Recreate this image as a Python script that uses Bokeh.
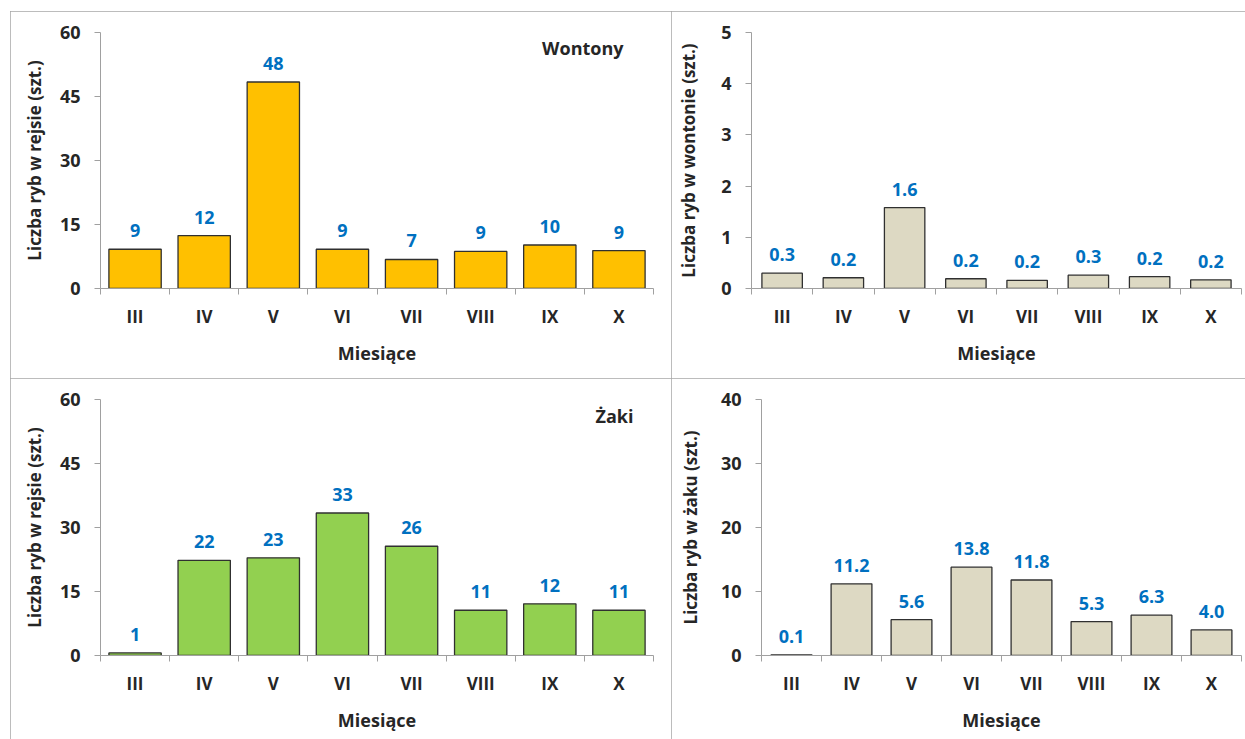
from bokeh.plotting import figure
from bokeh.models import (Range1d, FixedTicker, LinearAxis, ColumnDataSource,
                          LabelSet, Label, Spacer)
from bokeh.core.properties import value
from bokeh.layouts import row, column
from bokeh.embed import file_html
from bokeh.resources import INLINE

# --- data -------------------------------------------------------------
months = ["III", "IV", "V", "VI", "VII", "VIII", "IX", "X"]

wontony_per_trip = [9.2, 12.4, 48.4, 9.2, 6.8, 8.7, 10.2, 8.9]
zaki_per_trip = [0.6, 22.3, 22.9, 33.4, 25.6, 10.6, 12.1, 10.6]
fish_per_wonton = [0.30, 0.21, 1.58, 0.19, 0.16, 0.26, 0.23, 0.17]
fish_per_zak = [0.1, 11.2, 5.6, 13.8, 11.8, 5.3, 6.3, 4.0]

ticks_trip = [0, 15, 30, 45, 60]
ticks_wonton = [0, 1, 2, 3, 4, 5]
ticks_zak = [0, 10, 20, 30, 40]

FONT = "Open Sans"
TEXT = "#262626"
AXIS = "#a0a0a0"
BLUE = "#0070C0"
FRAME_CSS = {"outline": "1px solid #a6a6a6", "outline-offset": "-1px"}

n = len(months)
centres = [i + 0.5 for i in range(n)]
edges = list(range(n + 1))


def make_panel(values, ticks, fmt, color, bar_width, ylabel, w, h,
               b_left, b_right, b_top, b_bottom, label_standoff,
               title=None, title_off=0, title_dy=0):
    ymax = ticks[-1]
    p = figure(x_range=Range1d(0, n), y_range=Range1d(0, ymax), width=w,
               height=h, output_backend="svg", toolbar_location=None,
               x_axis_location=None, min_border_left=b_left,
               min_border_right=b_right, min_border_top=b_top,
               min_border_bottom=b_bottom, styles=FRAME_CSS)
    p.outline_line_color = None
    p.xgrid.visible = False
    p.ygrid.visible = False
    p.background_fill_color = "white"
    p.border_fill_color = "white"

    src = ColumnDataSource(dict(x=centres, v=values,
                                t=[fmt.format(v) for v in values]))
    p.vbar(x="x", top="v", width=bar_width, source=src, fill_color=color,
           line_color="#303030", line_width=1.3)

    p.add_layout(LabelSet(x="x", y="v", text="t", source=src, y_offset=12,
                          text_align="center", text_baseline="alphabetic",
                          text_font=value(FONT), text_font_style="bold",
                          text_font_size="18px", text_color=BLUE))

    # y axis
    ax = p.yaxis[0]
    ax.ticker = FixedTicker(ticks=ticks)
    ax.axis_line_color = AXIS
    ax.major_tick_line_color = AXIS
    ax.major_tick_out = 6
    ax.major_tick_in = 0
    ax.minor_tick_line_color = None
    ax.major_label_standoff = 14
    ax.major_label_text_font = FONT
    ax.major_label_text_font_style = "bold"
    ax.major_label_text_font_size = "18px"
    ax.major_label_text_color = TEXT
    ax.axis_label = ylabel
    ax.axis_label_standoff = label_standoff
    ax.axis_label_text_font = FONT
    ax.axis_label_text_font_style = "bold"
    ax.axis_label_text_font_size = "17px"
    ax.axis_label_text_color = TEXT

    # x axis: month names at category centres, tick marks on the boundaries
    xa = LinearAxis(ticker=FixedTicker(ticks=centres, minor_ticks=edges),
                    major_label_overrides={c: m for c, m in zip(centres, months)})
    xa.axis_line_color = AXIS
    xa.major_tick_line_color = None
    xa.major_tick_out = 0
    xa.major_tick_in = 0
    xa.minor_tick_line_color = AXIS
    xa.minor_tick_out = 6
    xa.minor_tick_in = 0
    xa.major_label_standoff = 10
    xa.major_label_text_font = FONT
    xa.major_label_text_font_style = "bold"
    xa.major_label_text_font_size = "17px"
    xa.major_label_text_color = TEXT
    p.add_layout(xa, "below")

    # axis title under the x axis
    ta = LinearAxis(ticker=FixedTicker(ticks=[]), axis_label="Miesiące")
    ta.axis_line_color = None
    ta.major_tick_line_color = None
    ta.minor_tick_line_color = None
    ta.major_label_standoff = 0
    ta.axis_label_standoff = 10
    ta.axis_label_text_font = FONT
    ta.axis_label_text_font_style = "bold"
    ta.axis_label_text_font_size = "18px"
    ta.axis_label_text_color = TEXT
    p.add_layout(ta, "below")

    if title:
        px = ymax / (h - b_top - b_bottom)
        p.add_layout(Label(x=n, y=ymax - title_dy * px,
                           x_offset=-title_off, text=title, text_align="right",
                           text_baseline="middle", text_font=FONT,
                           text_font_style="bold", text_font_size="18px",
                           text_color=TEXT))
    return p


p1 = make_panel(wontony_per_trip, ticks_trip, "{:.0f}", "#FFC000", 0.757,
                "Liczba ryb w rejsie (szt.)", 661, 367, 90, 18, 21, 90, 11,
                title="Wontony", title_off=30, title_dy=15)
p2 = make_panel(fish_per_wonton, ticks_wonton, "{:.1f}", "#DDD9C3", 0.66,
                "Liczba ryb w wontonie (szt.)", 574, 367, 80, 4, 21, 90, 18)
p3 = make_panel(zaki_per_trip, ticks_trip, "{:.0f}", "#92D050", 0.757,
                "Liczba ryb w rejsie (szt.)", 661, 361, 90, 18, 21, 84, 11,
                title="Żaki", title_off=20, title_dy=16)
p4 = make_panel(fish_per_zak, ticks_zak, "{:.1f}", "#DDD9C3", 0.68,
                "Liczba ryb w żaku (szt.)", 574, 361, 90, 4, 21, 84, 16)

grid = column(row(p1, p2), row(p3, p4))
page = column(Spacer(width=10, height=11), row(Spacer(width=10, height=728), grid))

open("out.html", "w").write(file_html(page, INLINE))
